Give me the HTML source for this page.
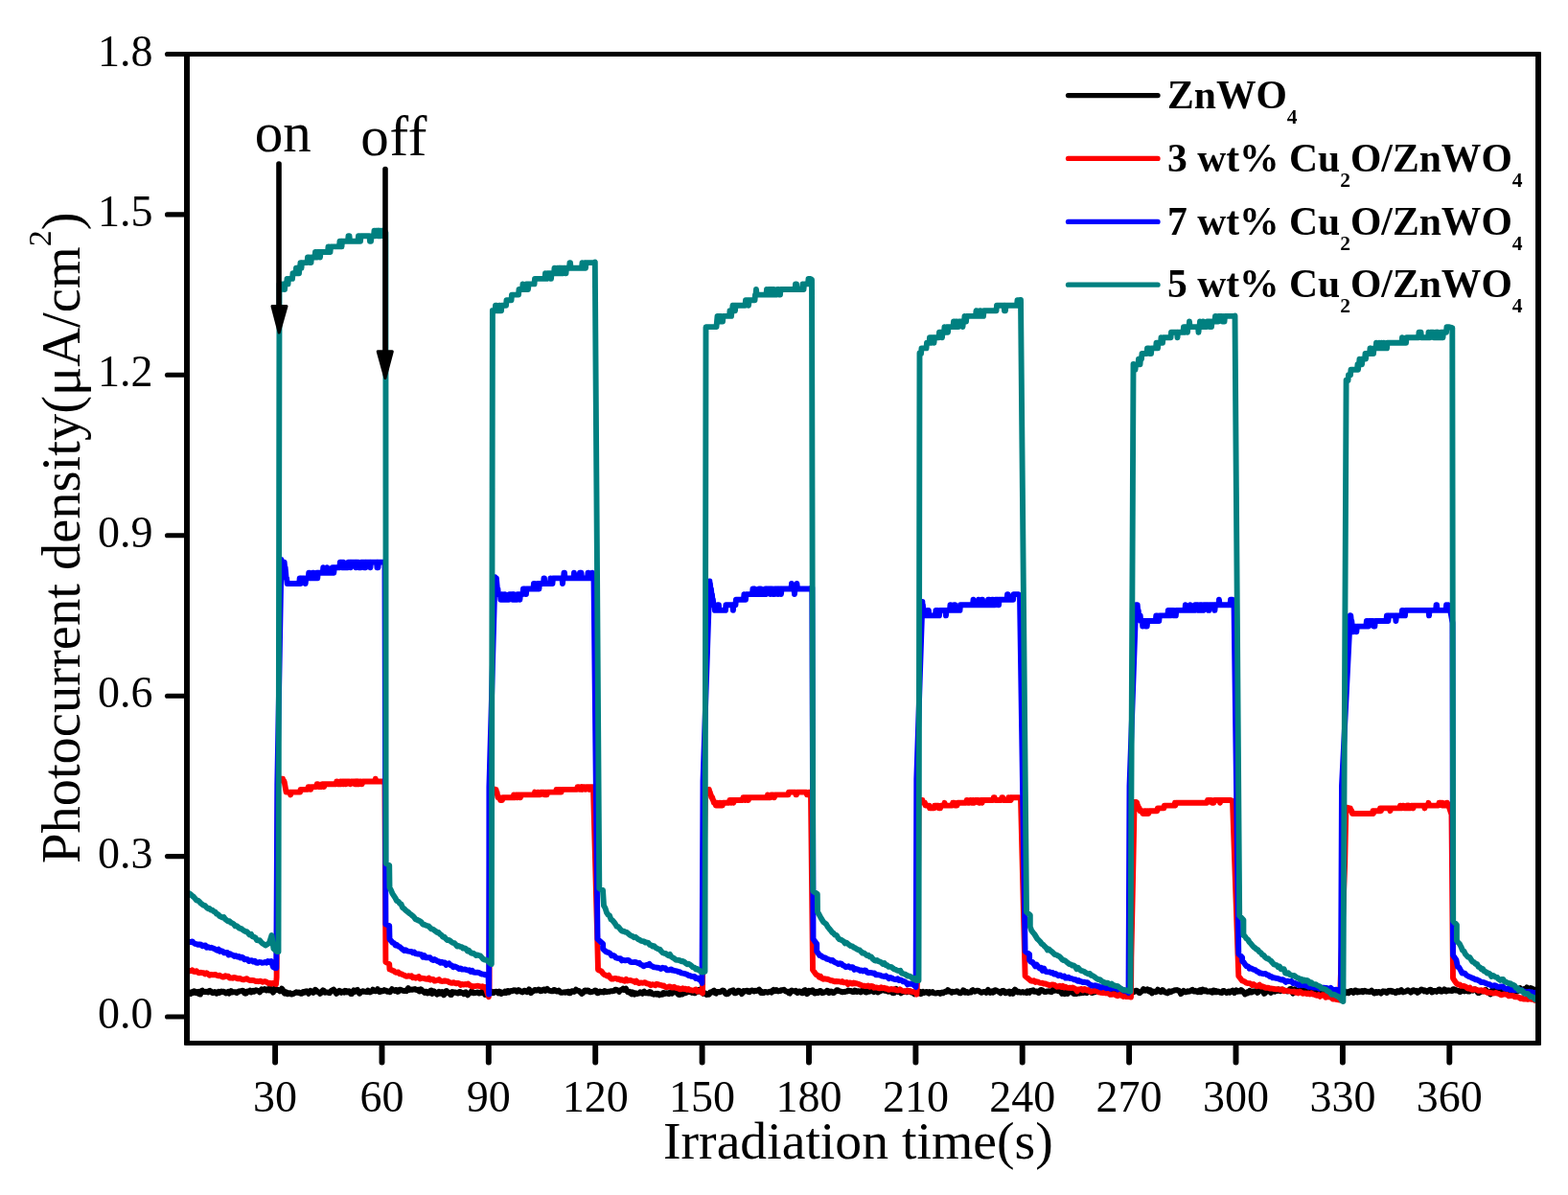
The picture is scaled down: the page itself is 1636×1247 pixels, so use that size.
<!DOCTYPE html>
<html><head><meta charset="utf-8"><style>
html,body{margin:0;padding:0;background:#fff;}
svg{display:block;}
text{font-family:"Liberation Serif","Times New Roman",serif;fill:#000;}
.yl text{font-size:46px;text-anchor:end;}
.xl text{font-size:46px;text-anchor:middle;}
.leg{font-size:41.6px;font-weight:bold;}
.sub{font-size:21.5px;}
</style></head><body>
<svg width="1636" height="1247" viewBox="0 0 1636 1247">
<rect x="0" y="0" width="1636" height="1247" fill="#fff"/>
<defs><clipPath id="pc"><rect x="195" y="56.5" width="1410" height="1032.0"/></clipPath></defs>
<g clip-path="url(#pc)">
<g transform="scale(1.0,1)">
<polyline points="196.00,1036.0 197.00,1035.5 198.00,1035.4 199.00,1037.0 200.00,1035.6 201.00,1034.8 202.00,1035.9 203.00,1034.4 204.00,1034.9 205.00,1036.2 206.00,1035.4 207.00,1034.8 208.00,1037.4 209.00,1037.6 210.00,1034.1 211.00,1033.6 212.00,1034.6 213.00,1035.0 214.00,1035.2 215.00,1034.7 216.00,1035.1 217.00,1035.4 218.00,1034.1 219.00,1033.8 220.00,1034.5 221.00,1035.6 222.00,1036.2 223.00,1035.3 224.00,1035.0 225.00,1035.3 226.00,1036.7 227.00,1036.1 228.00,1035.0 229.00,1035.9 230.00,1034.9 231.00,1034.5 232.00,1035.2 233.00,1034.7 234.00,1035.0 235.00,1036.0 236.00,1036.4 237.00,1035.5 238.00,1034.8 239.00,1036.6 240.00,1035.7 241.00,1034.1 242.00,1035.5 243.00,1035.4 244.00,1035.2 245.00,1035.2 246.00,1035.3 247.00,1036.0 248.00,1035.3 249.00,1034.5 250.00,1034.6 251.00,1034.1 252.00,1034.1 253.00,1033.6 254.00,1034.1 255.00,1036.1 256.00,1036.7 257.00,1036.4 258.00,1034.5 259.00,1034.6 260.00,1034.8 261.00,1033.6 262.00,1035.4 263.00,1034.6 264.00,1033.9 265.00,1034.8 266.00,1034.1 267.00,1033.2 268.00,1033.6 269.00,1033.8 270.00,1034.3 271.00,1035.4 272.00,1033.7 273.00,1032.4 274.00,1033.1 275.00,1032.6 276.00,1032.0 277.00,1032.9 278.00,1033.5 279.00,1032.3 280.00,1032.0 281.00,1033.5 282.00,1033.1 283.00,1032.0 284.00,1034.0 285.00,1035.6 286.00,1033.3 287.00,1031.4 288.00,1032.8 289.00,1033.0 290.00,1032.7 291.00,1033.5 292.00,1034.4 293.00,1033.2 294.00,1031.7 295.00,1032.9 296.00,1035.6 297.00,1036.6 298.00,1035.0 299.00,1035.6 300.00,1037.3 301.00,1036.8 302.00,1036.1 303.00,1036.5 304.00,1037.6 305.00,1037.4 306.00,1036.8 307.00,1036.7 308.00,1036.0 309.00,1035.3 310.00,1035.7 311.00,1036.0 312.00,1035.6 313.00,1036.4 314.00,1036.9 315.00,1036.8 316.00,1035.2 317.00,1034.9 318.00,1035.6 319.00,1034.5 320.00,1034.3 321.00,1035.6 322.00,1036.8 323.00,1035.3 324.00,1033.9 325.00,1034.4 326.00,1034.8 327.00,1035.9 328.00,1035.2 329.00,1032.7 330.00,1033.5 331.00,1034.8 332.00,1035.1 333.00,1035.6 334.00,1036.9 335.00,1036.2 336.00,1034.3 337.00,1033.3 338.00,1033.8 339.00,1035.7 340.00,1035.3 341.00,1035.5 342.00,1035.7 343.00,1036.0 344.00,1036.2 345.00,1034.3 346.00,1033.6 347.00,1033.3 348.00,1032.5 349.00,1033.8 350.00,1035.6 351.00,1036.8 352.00,1036.1 353.00,1034.6 354.00,1033.8 355.00,1034.7 356.00,1035.8 357.00,1034.6 358.00,1034.8 359.00,1035.6 360.00,1033.8 361.00,1034.0 362.00,1035.4 363.00,1034.6 364.00,1034.2 365.00,1035.7 366.00,1037.1 367.00,1037.1 368.00,1035.2 369.00,1033.4 370.00,1034.9 371.00,1034.5 372.00,1033.3 373.00,1032.9 374.00,1034.7 375.00,1036.8 376.00,1035.8 377.00,1035.2 378.00,1034.5 379.00,1034.1 380.00,1034.8 381.00,1034.6 382.00,1035.0 383.00,1035.2 384.00,1033.7 385.00,1034.9 386.00,1035.5 387.00,1034.9 388.00,1034.7 389.00,1032.7 390.00,1033.4 391.00,1034.0 392.00,1034.4 393.00,1034.2 394.00,1032.2 395.00,1033.5 396.00,1035.1 397.00,1034.9 398.00,1033.7 399.00,1034.3 400.00,1034.1 401.00,1033.1 402.00,1033.6 403.00,1033.6 404.00,1034.8 405.00,1034.5 406.00,1034.3 407.00,1035.2 408.00,1033.6 409.00,1032.2 410.00,1033.1 411.00,1033.5 412.00,1033.9 413.00,1032.9 414.00,1033.1 415.00,1035.0 416.00,1034.3 417.00,1032.7 418.00,1032.8 419.00,1033.4 420.00,1033.7 421.00,1034.0 422.00,1034.0 423.00,1033.7 424.00,1034.2 425.00,1032.8 426.00,1031.0 427.00,1033.0 428.00,1032.6 429.00,1032.7 430.00,1032.9 431.00,1032.4 432.00,1032.6 433.00,1032.1 434.00,1032.9 435.00,1033.1 436.00,1032.7 437.00,1034.3 438.00,1034.5 439.00,1032.3 440.00,1033.0 441.00,1034.3 442.00,1034.8 443.00,1035.8 444.00,1034.7 445.00,1034.6 446.00,1036.5 447.00,1036.2 448.00,1035.9 449.00,1034.0 450.00,1033.5 451.00,1036.9 452.00,1036.0 453.00,1034.4 454.00,1035.8 455.00,1036.6 456.00,1037.6 457.00,1035.9 458.00,1034.8 459.00,1036.6 460.00,1035.7 461.00,1035.0 462.00,1037.3 463.00,1038.2 464.00,1037.3 465.00,1034.5 466.00,1034.0 467.00,1036.1 468.00,1036.0 469.00,1035.7 470.00,1038.1 471.00,1038.0 472.00,1035.1 473.00,1035.4 474.00,1035.8 475.00,1035.5 476.00,1035.6 477.00,1036.4 478.00,1036.6 479.00,1035.2 480.00,1034.9 481.00,1036.1 482.00,1035.8 483.00,1036.3 484.00,1037.2 485.00,1035.6 486.00,1035.3 487.00,1037.4 488.00,1038.3 489.00,1036.8 490.00,1036.3 491.00,1035.9 492.00,1034.2 493.00,1035.1 494.00,1036.3 495.00,1036.2 496.00,1036.0 497.00,1035.9 498.00,1035.5 499.00,1035.6 500.00,1036.6 501.00,1036.2 502.00,1036.1 503.00,1034.9 504.00,1033.8 505.00,1036.0 506.00,1037.8 507.00,1037.0 508.00,1035.6 509.00,1034.5 510.00,1034.9 511.00,1036.3 512.00,1035.0 513.00,1034.8 514.00,1036.2 515.00,1036.1 516.00,1034.9 517.00,1034.9 518.00,1034.6 519.00,1035.3 520.00,1036.4 521.00,1034.5 522.00,1035.3 523.00,1036.9 524.00,1035.5 525.00,1036.2 526.00,1035.9 527.00,1034.5 528.00,1036.0 529.00,1034.1 530.00,1034.0 531.00,1035.5 532.00,1034.7 533.00,1034.0 534.00,1034.2 535.00,1034.1 536.00,1033.2 537.00,1033.6 538.00,1033.4 539.00,1034.7 540.00,1034.6 541.00,1033.0 542.00,1033.6 543.00,1034.1 544.00,1034.9 545.00,1035.4 546.00,1034.6 547.00,1033.7 548.00,1033.9 549.00,1034.8 550.00,1035.2 551.00,1034.2 552.00,1032.3 553.00,1034.1 554.00,1036.2 555.00,1034.9 556.00,1034.5 557.00,1033.9 558.00,1032.9 559.00,1033.1 560.00,1033.6 561.00,1033.4 562.00,1032.5 563.00,1032.8 564.00,1034.2 565.00,1034.1 566.00,1033.7 567.00,1032.6 568.00,1032.4 569.00,1033.8 570.00,1033.1 571.00,1032.0 572.00,1033.2 573.00,1033.8 574.00,1033.9 575.00,1034.2 576.00,1034.3 577.00,1034.4 578.00,1032.9 579.00,1033.1 580.00,1034.0 581.00,1034.5 582.00,1034.5 583.00,1033.7 584.00,1034.7 585.00,1035.8 586.00,1035.8 587.00,1035.7 588.00,1035.5 589.00,1035.3 590.00,1035.7 591.00,1035.4 592.00,1034.9 593.00,1034.7 594.00,1036.4 595.00,1036.3 596.00,1034.5 597.00,1034.2 598.00,1034.4 599.00,1034.9 600.00,1034.1 601.00,1032.6 602.00,1033.6 603.00,1033.9 604.00,1033.9 605.00,1035.1 606.00,1035.8 607.00,1036.9 608.00,1036.3 609.00,1034.8 610.00,1033.7 611.00,1033.5 612.00,1034.4 613.00,1033.5 614.00,1033.6 615.00,1035.0 616.00,1035.4 617.00,1035.2 618.00,1034.8 619.00,1034.6 620.00,1034.2 621.00,1033.4 622.00,1033.8 623.00,1036.2 624.00,1036.2 625.00,1035.3 626.00,1034.5 627.00,1035.2 628.00,1035.3 629.00,1034.8 630.00,1035.4 631.00,1034.1 632.00,1034.7 633.00,1035.3 634.00,1034.7 635.00,1034.9 636.00,1034.8 637.00,1034.1 638.00,1034.4 639.00,1034.3 640.00,1034.0 641.00,1033.8 642.00,1032.6 643.00,1032.6 644.00,1033.3 645.00,1033.7 646.00,1034.9 647.00,1033.7 648.00,1032.9 649.00,1032.5 650.00,1031.7 651.00,1033.0 652.00,1032.3 653.00,1031.5 654.00,1033.5 655.00,1035.2 656.00,1035.3 657.00,1034.9 658.00,1036.7 659.00,1037.4 660.00,1035.3 661.00,1036.6 662.00,1037.6 663.00,1036.2 664.00,1036.6 665.00,1037.0 666.00,1036.6 667.00,1036.6 668.00,1035.4 669.00,1036.0 670.00,1036.8 671.00,1035.4 672.00,1034.7 673.00,1036.1 674.00,1036.4 675.00,1035.7 676.00,1036.5 677.00,1036.5 678.00,1035.0 679.00,1035.3 680.00,1037.1 681.00,1037.2 682.00,1037.7 683.00,1037.3 684.00,1036.7 685.00,1037.6 686.00,1036.8 687.00,1036.9 688.00,1038.4 689.00,1037.7 690.00,1037.8 691.00,1037.8 692.00,1035.9 693.00,1036.1 694.00,1036.9 695.00,1036.4 696.00,1036.3 697.00,1036.9 698.00,1037.2 699.00,1035.7 700.00,1035.7 701.00,1036.7 702.00,1035.8 703.00,1035.0 704.00,1035.2 705.00,1035.1 706.00,1035.6 707.00,1036.8 708.00,1037.8 709.00,1038.0 710.00,1037.3 711.00,1037.3 712.00,1037.5 713.00,1036.4 714.00,1036.0 715.00,1036.4 716.00,1035.9 717.00,1035.3 718.00,1035.0 719.00,1035.1 720.00,1034.6 721.00,1035.2 722.00,1036.0 723.00,1035.7 724.00,1036.0 725.00,1036.4 726.00,1035.7 727.00,1035.1 728.00,1034.4 729.00,1032.9 730.00,1032.7 731.00,1035.3 732.00,1035.4 733.00,1034.6 734.00,1036.9 735.00,1036.3 736.00,1036.4 737.00,1038.0 738.00,1037.5 739.00,1037.9 740.00,1037.6 741.00,1035.4 742.00,1035.3 743.00,1035.5 744.00,1034.2 745.00,1033.6 746.00,1036.2 747.00,1036.7 748.00,1035.0 749.00,1034.9 750.00,1035.0 751.00,1035.3 752.00,1034.9 753.00,1034.2 754.00,1033.4 755.00,1033.8 756.00,1034.9 757.00,1036.9 758.00,1037.4 759.00,1037.2 760.00,1036.8 761.00,1035.4 762.00,1034.1 763.00,1034.2 764.00,1033.6 765.00,1033.3 766.00,1036.0 767.00,1036.4 768.00,1036.0 769.00,1035.5 770.00,1033.7 771.00,1033.6 772.00,1034.3 773.00,1035.5 774.00,1037.1 775.00,1035.7 776.00,1034.1 777.00,1034.5 778.00,1034.4 779.00,1033.6 780.00,1033.9 781.00,1035.1 782.00,1035.2 783.00,1034.1 784.00,1033.7 785.00,1033.4 786.00,1034.1 787.00,1034.6 788.00,1033.7 789.00,1034.1 790.00,1033.9 791.00,1033.4 792.00,1032.6 793.00,1034.5 794.00,1036.0 795.00,1034.9 796.00,1036.2 797.00,1036.0 798.00,1034.9 799.00,1034.9 800.00,1035.4 801.00,1035.7 802.00,1035.1 803.00,1034.6 804.00,1034.6 805.00,1035.6 806.00,1033.9 807.00,1033.0 808.00,1034.2 809.00,1034.1 810.00,1033.0 811.00,1033.7 812.00,1034.5 813.00,1033.9 814.00,1034.1 815.00,1033.1 816.00,1033.2 817.00,1033.1 818.00,1032.7 819.00,1033.8 820.00,1034.5 821.00,1034.8 822.00,1034.7 823.00,1036.2 824.00,1036.6 825.00,1034.2 826.00,1033.5 827.00,1033.9 828.00,1034.3 829.00,1034.3 830.00,1033.8 831.00,1035.4 832.00,1036.1 833.00,1034.7 834.00,1034.5 835.00,1034.6 836.00,1035.8 837.00,1036.3 838.00,1036.1 839.00,1033.6 840.00,1033.0 841.00,1036.0 842.00,1037.2 843.00,1036.4 844.00,1033.8 845.00,1034.2 846.00,1035.0 847.00,1033.4 848.00,1033.3 849.00,1035.4 850.00,1036.6 851.00,1036.4 852.00,1034.8 853.00,1036.1 854.00,1036.0 855.00,1034.1 856.00,1033.9 857.00,1034.9 858.00,1036.2 859.00,1035.9 860.00,1035.6 861.00,1034.9 862.00,1035.0 863.00,1033.7 864.00,1034.2 865.00,1036.2 866.00,1035.2 867.00,1034.5 868.00,1035.0 869.00,1036.1 870.00,1036.1 871.00,1035.0 872.00,1034.3 873.00,1033.2 874.00,1033.1 875.00,1034.2 876.00,1034.4 877.00,1034.4 878.00,1035.1 879.00,1035.3 880.00,1034.9 881.00,1035.0 882.00,1035.0 883.00,1034.4 884.00,1034.6 885.00,1033.4 886.00,1033.9 887.00,1034.2 888.00,1033.9 889.00,1034.8 890.00,1035.0 891.00,1035.0 892.00,1033.5 893.00,1034.2 894.00,1035.0 895.00,1034.3 896.00,1034.2 897.00,1034.8 898.00,1035.4 899.00,1034.8 900.00,1033.1 901.00,1032.7 902.00,1033.9 903.00,1035.4 904.00,1035.6 905.00,1034.3 906.00,1034.9 907.00,1034.9 908.00,1034.0 909.00,1034.3 910.00,1033.2 911.00,1033.8 912.00,1035.2 913.00,1034.4 914.00,1033.3 915.00,1033.7 916.00,1035.5 917.00,1034.9 918.00,1033.2 919.00,1034.0 920.00,1033.6 921.00,1031.8 922.00,1032.7 923.00,1033.8 924.00,1033.9 925.00,1034.1 926.00,1034.5 927.00,1034.8 928.00,1034.2 929.00,1034.0 930.00,1035.0 931.00,1036.0 932.00,1036.2 933.00,1036.1 934.00,1033.1 935.00,1032.0 936.00,1034.1 937.00,1035.0 938.00,1034.1 939.00,1035.0 940.00,1036.4 941.00,1035.0 942.00,1034.9 943.00,1035.2 944.00,1034.5 945.00,1035.2 946.00,1035.4 947.00,1034.1 948.00,1034.0 949.00,1034.9 950.00,1034.6 951.00,1035.6 952.00,1035.6 953.00,1036.0 954.00,1037.4 955.00,1035.5 956.00,1035.0 957.00,1036.5 958.00,1036.3 959.00,1034.6 960.00,1034.8 961.00,1037.1 962.00,1035.9 963.00,1034.9 964.00,1036.0 965.00,1035.5 966.00,1035.2 967.00,1035.0 968.00,1036.0 969.00,1036.7 970.00,1035.2 971.00,1035.9 972.00,1035.6 973.00,1035.0 974.00,1036.0 975.00,1036.4 976.00,1036.5 977.00,1036.3 978.00,1036.0 979.00,1035.9 980.00,1036.2 981.00,1037.0 982.00,1036.2 983.00,1035.5 984.00,1036.3 985.00,1035.6 986.00,1034.8 987.00,1035.0 988.00,1034.3 989.00,1033.0 990.00,1034.5 991.00,1034.3 992.00,1034.8 993.00,1035.7 994.00,1034.8 995.00,1035.1 996.00,1035.1 997.00,1034.9 998.00,1034.3 999.00,1034.4 1000.00,1035.4 1001.00,1036.2 1002.00,1036.4 1003.00,1035.8 1004.00,1034.8 1005.00,1033.3 1006.00,1033.9 1007.00,1035.7 1008.00,1034.9 1009.00,1034.9 1010.00,1036.1 1011.00,1035.6 1012.00,1035.4 1013.00,1035.6 1014.00,1033.6 1015.00,1033.1 1016.00,1034.0 1017.00,1034.7 1018.00,1034.4 1019.00,1033.7 1020.00,1033.7 1021.00,1033.9 1022.00,1034.7 1023.00,1035.4 1024.00,1035.9 1025.00,1035.4 1026.00,1035.0 1027.00,1035.0 1028.00,1034.9 1029.00,1035.9 1030.00,1034.1 1031.00,1032.9 1032.00,1034.9 1033.00,1035.8 1034.00,1034.8 1035.00,1034.3 1036.00,1035.7 1037.00,1035.1 1038.00,1033.2 1039.00,1033.2 1040.00,1033.8 1041.00,1034.5 1042.00,1034.7 1043.00,1035.6 1044.00,1036.3 1045.00,1034.5 1046.00,1034.0 1047.00,1033.8 1048.00,1034.5 1049.00,1036.3 1050.00,1035.9 1051.00,1035.5 1052.00,1035.0 1053.00,1034.6 1054.00,1036.9 1055.00,1035.7 1056.00,1034.9 1057.00,1036.8 1058.00,1034.6 1059.00,1032.7 1060.00,1033.4 1061.00,1035.1 1062.00,1035.5 1063.00,1034.7 1064.00,1035.5 1065.00,1035.7 1066.00,1035.3 1067.00,1035.0 1068.00,1035.7 1069.00,1035.4 1070.00,1035.7 1071.00,1036.1 1072.00,1034.3 1073.00,1035.0 1074.00,1035.8 1075.00,1034.0 1076.00,1033.8 1077.00,1034.2 1078.00,1033.4 1079.00,1034.9 1080.00,1034.8 1081.00,1034.4 1082.00,1034.7 1083.00,1035.8 1084.00,1036.0 1085.00,1033.7 1086.00,1032.9 1087.00,1033.1 1088.00,1033.9 1089.00,1034.5 1090.00,1035.0 1091.00,1035.1 1092.00,1034.5 1093.00,1034.6 1094.00,1034.3 1095.00,1034.3 1096.00,1034.9 1097.00,1035.2 1098.00,1034.3 1099.00,1032.5 1100.00,1032.3 1101.00,1033.7 1102.00,1032.6 1103.00,1032.1 1104.00,1034.3 1105.00,1034.3 1106.00,1033.3 1107.00,1035.1 1108.00,1037.0 1109.00,1035.7 1110.00,1035.8 1111.00,1037.1 1112.00,1035.5 1113.00,1036.6 1114.00,1036.9 1115.00,1034.9 1116.00,1034.9 1117.00,1035.2 1118.00,1035.2 1119.00,1035.1 1120.00,1036.8 1121.00,1037.0 1122.00,1036.0 1123.00,1037.0 1124.00,1036.5 1125.00,1036.1 1126.00,1036.5 1127.00,1036.0 1128.00,1036.2 1129.00,1036.1 1130.00,1036.1 1131.00,1035.4 1132.00,1035.0 1133.00,1035.9 1134.00,1036.2 1135.00,1035.0 1136.00,1034.6 1137.00,1034.9 1138.00,1035.4 1139.00,1036.0 1140.00,1036.0 1141.00,1035.4 1142.00,1035.4 1143.00,1034.8 1144.00,1032.8 1145.00,1033.7 1146.00,1034.5 1147.00,1033.9 1148.00,1034.2 1149.00,1035.3 1150.00,1035.2 1151.00,1035.0 1152.00,1035.4 1153.00,1034.3 1154.00,1033.6 1155.00,1034.7 1156.00,1036.1 1157.00,1036.3 1158.00,1037.3 1159.00,1036.9 1160.00,1035.8 1161.00,1035.5 1162.00,1035.3 1163.00,1035.2 1164.00,1034.4 1165.00,1036.1 1166.00,1035.4 1167.00,1034.1 1168.00,1035.7 1169.00,1035.6 1170.00,1034.6 1171.00,1034.3 1172.00,1034.7 1173.00,1034.0 1174.00,1034.3 1175.00,1034.8 1176.00,1034.4 1177.00,1035.1 1178.00,1034.8 1179.00,1034.6 1180.00,1034.9 1181.00,1034.9 1182.00,1035.3 1183.00,1035.2 1184.00,1034.4 1185.00,1033.7 1186.00,1033.8 1187.00,1034.4 1188.00,1035.6 1189.00,1036.2 1190.00,1035.3 1191.00,1034.6 1192.00,1033.8 1193.00,1032.1 1194.00,1032.7 1195.00,1033.7 1196.00,1033.2 1197.00,1032.4 1198.00,1033.9 1199.00,1034.6 1200.00,1033.0 1201.00,1035.2 1202.00,1036.5 1203.00,1034.6 1204.00,1035.0 1205.00,1034.6 1206.00,1035.3 1207.00,1034.7 1208.00,1032.7 1209.00,1033.6 1210.00,1034.0 1211.00,1035.1 1212.00,1034.5 1213.00,1033.0 1214.00,1034.2 1215.00,1035.2 1216.00,1035.7 1217.00,1035.5 1218.00,1036.4 1219.00,1035.8 1220.00,1034.3 1221.00,1035.3 1222.00,1034.9 1223.00,1034.1 1224.00,1034.0 1225.00,1033.7 1226.00,1033.2 1227.00,1033.3 1228.00,1033.0 1229.00,1033.7 1230.00,1033.6 1231.00,1034.8 1232.00,1037.1 1233.00,1036.4 1234.00,1035.1 1235.00,1033.9 1236.00,1034.9 1237.00,1035.4 1238.00,1035.0 1239.00,1034.3 1240.00,1034.7 1241.00,1034.6 1242.00,1034.0 1243.00,1033.3 1244.00,1032.8 1245.00,1034.3 1246.00,1034.5 1247.00,1033.8 1248.00,1034.7 1249.00,1035.0 1250.00,1035.3 1251.00,1033.7 1252.00,1033.2 1253.00,1035.3 1254.00,1033.8 1255.00,1032.5 1256.00,1034.3 1257.00,1034.4 1258.00,1033.4 1259.00,1034.6 1260.00,1034.8 1261.00,1034.7 1262.00,1034.4 1263.00,1034.2 1264.00,1035.6 1265.00,1035.7 1266.00,1033.4 1267.00,1033.6 1268.00,1035.2 1269.00,1034.1 1270.00,1035.1 1271.00,1034.5 1272.00,1034.9 1273.00,1035.7 1274.00,1035.5 1275.00,1035.9 1276.00,1033.9 1277.00,1034.0 1278.00,1035.2 1279.00,1035.5 1280.00,1036.0 1281.00,1035.0 1282.00,1034.6 1283.00,1035.8 1284.00,1035.2 1285.00,1034.1 1286.00,1033.6 1287.00,1034.8 1288.00,1036.0 1289.00,1034.9 1290.00,1033.4 1291.00,1034.9 1292.00,1034.7 1293.00,1033.9 1294.00,1034.5 1295.00,1033.1 1296.00,1033.7 1297.00,1034.8 1298.00,1035.8 1299.00,1037.5 1300.00,1036.3 1301.00,1035.4 1302.00,1036.3 1303.00,1035.2 1304.00,1033.8 1305.00,1035.3 1306.00,1035.6 1307.00,1034.5 1308.00,1034.5 1309.00,1034.4 1310.00,1034.1 1311.00,1034.7 1312.00,1036.0 1313.00,1035.2 1314.00,1033.3 1315.00,1033.6 1316.00,1033.5 1317.00,1033.0 1318.00,1034.9 1319.00,1036.9 1320.00,1036.3 1321.00,1033.9 1322.00,1034.2 1323.00,1033.3 1324.00,1032.3 1325.00,1034.9 1326.00,1035.9 1327.00,1033.8 1328.00,1032.1 1329.00,1033.6 1330.00,1034.7 1331.00,1033.7 1332.00,1034.0 1333.00,1034.0 1334.00,1032.3 1335.00,1033.3 1336.00,1034.2 1337.00,1032.9 1338.00,1032.4 1339.00,1033.2 1340.00,1033.6 1341.00,1033.9 1342.00,1034.2 1343.00,1034.5 1344.00,1034.4 1345.00,1033.2 1346.00,1032.1 1347.00,1031.8 1348.00,1033.7 1349.00,1036.6 1350.00,1035.2 1351.00,1032.3 1352.00,1033.4 1353.00,1034.5 1354.00,1033.8 1355.00,1033.5 1356.00,1032.9 1357.00,1032.6 1358.00,1034.4 1359.00,1035.8 1360.00,1035.1 1361.00,1033.7 1362.00,1034.2 1363.00,1035.2 1364.00,1035.2 1365.00,1034.0 1366.00,1033.9 1367.00,1035.1 1368.00,1034.4 1369.00,1032.8 1370.00,1033.7 1371.00,1034.9 1372.00,1035.3 1373.00,1035.1 1374.00,1034.0 1375.00,1033.7 1376.00,1033.4 1377.00,1033.1 1378.00,1033.5 1379.00,1033.8 1380.00,1035.0 1381.00,1034.5 1382.00,1033.7 1383.00,1034.2 1384.00,1035.3 1385.00,1035.9 1386.00,1034.7 1387.00,1035.1 1388.00,1035.4 1389.00,1034.5 1390.00,1035.6 1391.00,1036.4 1392.00,1036.6 1393.00,1036.9 1394.00,1036.3 1395.00,1035.5 1396.00,1034.2 1397.00,1034.7 1398.00,1035.5 1399.00,1035.5 1400.00,1035.4 1401.00,1034.4 1402.00,1033.7 1403.00,1034.7 1404.00,1036.3 1405.00,1035.6 1406.00,1035.0 1407.00,1036.2 1408.00,1035.3 1409.00,1034.1 1410.00,1033.9 1411.00,1035.0 1412.00,1035.9 1413.00,1034.8 1414.00,1033.4 1415.00,1033.6 1416.00,1035.5 1417.00,1035.4 1418.00,1034.4 1419.00,1035.0 1420.00,1034.4 1421.00,1034.0 1422.00,1035.3 1423.00,1034.7 1424.00,1033.7 1425.00,1034.4 1426.00,1034.9 1427.00,1034.6 1428.00,1034.8 1429.00,1035.1 1430.00,1034.3 1431.00,1033.6 1432.00,1034.6 1433.00,1035.8 1434.00,1036.5 1435.00,1035.1 1436.00,1034.9 1437.00,1036.0 1438.00,1035.2 1439.00,1035.0 1440.00,1035.6 1441.00,1036.5 1442.00,1035.1 1443.00,1034.3 1444.00,1034.9 1445.00,1034.4 1446.00,1035.3 1447.00,1036.0 1448.00,1034.4 1449.00,1033.7 1450.00,1034.5 1451.00,1033.7 1452.00,1034.1 1453.00,1035.1 1454.00,1034.6 1455.00,1034.8 1456.00,1036.0 1457.00,1035.8 1458.00,1034.2 1459.00,1035.4 1460.00,1035.3 1461.00,1033.7 1462.00,1033.1 1463.00,1034.2 1464.00,1035.4 1465.00,1034.9 1466.00,1034.8 1467.00,1034.4 1468.00,1033.7 1469.00,1033.3 1470.00,1034.1 1471.00,1034.7 1472.00,1035.6 1473.00,1034.9 1474.00,1033.4 1475.00,1033.2 1476.00,1034.5 1477.00,1034.4 1478.00,1033.9 1479.00,1035.8 1480.00,1035.1 1481.00,1034.6 1482.00,1033.2 1483.00,1032.4 1484.00,1032.8 1485.00,1033.1 1486.00,1034.3 1487.00,1033.6 1488.00,1034.3 1489.00,1035.0 1490.00,1034.0 1491.00,1033.4 1492.00,1032.7 1493.00,1032.9 1494.00,1035.4 1495.00,1035.1 1496.00,1033.9 1497.00,1034.0 1498.00,1034.2 1499.00,1034.9 1500.00,1034.2 1501.00,1032.6 1502.00,1032.4 1503.00,1034.5 1504.00,1034.7 1505.00,1034.3 1506.00,1034.1 1507.00,1032.3 1508.00,1033.0 1509.00,1034.5 1510.00,1033.8 1511.00,1033.3 1512.00,1033.9 1513.00,1033.8 1514.00,1033.8 1515.00,1034.1 1516.00,1032.2 1517.00,1032.2 1518.00,1033.4 1519.00,1033.0 1520.00,1033.7 1521.00,1033.9 1522.00,1034.0 1523.00,1035.1 1524.00,1034.8 1525.00,1033.0 1526.00,1032.4 1527.00,1034.1 1528.00,1034.4 1529.00,1033.2 1530.00,1033.3 1531.00,1034.3 1532.00,1034.5 1533.00,1034.6 1534.00,1033.8 1535.00,1033.2 1536.00,1033.6 1537.00,1033.8 1538.00,1032.5 1539.00,1032.3 1540.00,1032.9 1541.00,1034.0 1542.00,1036.0 1543.00,1036.2 1544.00,1035.7 1545.00,1034.2 1546.00,1034.3 1547.00,1034.5 1548.00,1034.3 1549.00,1033.8 1550.00,1032.9 1551.00,1033.9 1552.00,1035.5 1553.00,1035.2 1554.00,1035.5 1555.00,1037.5 1556.00,1035.0 1557.00,1033.1 1558.00,1033.3 1559.00,1033.2 1560.00,1033.5 1561.00,1033.6 1562.00,1034.6 1563.00,1035.3 1564.00,1034.8 1565.00,1034.1 1566.00,1034.0 1567.00,1034.1 1568.00,1034.4 1569.00,1034.3 1570.00,1034.2 1571.00,1033.3 1572.00,1033.5 1573.00,1035.6 1574.00,1035.1 1575.00,1032.9 1576.00,1033.7 1577.00,1034.4 1578.00,1031.4 1579.00,1031.4 1580.00,1033.9 1581.00,1034.3 1582.00,1034.7 1583.00,1034.8 1584.00,1034.0 1585.00,1032.1 1586.00,1031.2 1587.00,1032.7 1588.00,1033.9 1589.00,1033.0 1590.00,1032.1 1591.00,1033.1 1592.00,1032.1 1593.00,1030.4 1594.00,1031.5 1595.00,1033.0 1596.00,1032.8 1597.00,1031.0 1598.00,1031.3 1599.00,1031.9 1600.00,1032.3 1601.00,1033.1 1602.00,1032.8 1603.00,1033.3 1604.00,1032.7 1605.00,1032.7 1606.00,1032.5" fill="none" stroke="#000000" stroke-width="5.9" stroke-linejoin="round" stroke-linecap="round"/>
<polyline points="196.00,1013.0 197.50,1013.0 199.01,1013.3 200.51,1012.4 202.01,1013.9 203.52,1014.0 205.02,1013.2 206.52,1014.9 208.03,1015.3 209.53,1014.8 211.03,1015.2 212.54,1015.1 214.04,1016.4 215.54,1015.3 217.05,1016.2 218.55,1017.8 220.05,1016.9 221.56,1017.4 223.06,1017.3 224.56,1016.9 226.07,1017.8 227.57,1018.3 229.07,1017.7 230.58,1018.7 232.08,1019.5 233.58,1019.6 235.09,1018.2 236.59,1018.8 238.09,1018.7 239.60,1020.5 241.10,1020.5 242.60,1020.7 244.11,1020.0 245.61,1020.1 247.11,1021.0 248.62,1021.3 250.12,1020.9 251.62,1021.7 253.13,1022.2 254.63,1022.2 256.13,1021.6 257.64,1021.2 259.14,1022.5 260.64,1023.0 262.15,1022.9 263.65,1023.0 265.15,1023.1 266.66,1024.1 268.16,1023.9 269.66,1024.2 271.17,1023.7 272.67,1024.1 274.17,1024.8 275.68,1024.3 277.18,1024.3 278.68,1025.1 280.19,1026.2 281.69,1025.8 283.19,1026.7 284.70,1025.9 286.20,1026.2 288.00,1027.0 288.60,1020.0 290.00,812.6 294.10,812.7 295.10,812.7 295.60,815.5 296.60,815.5 297.11,818.3 297.61,821.1 298.11,823.9 298.61,826.6 302.62,826.6 303.12,829.4 303.62,826.6 313.14,826.6 313.64,823.9 321.15,823.9 321.65,821.1 323.15,821.1 323.66,823.9 324.16,823.9 324.66,821.1 330.17,821.1 330.67,818.3 331.67,818.3 332.17,821.1 335.68,821.1 336.18,818.3 336.68,818.3 337.18,821.1 338.18,821.1 338.68,818.3 350.71,818.3 351.21,815.5 351.71,815.5 352.21,818.3 354.71,818.3 355.22,815.5 355.72,818.3 356.22,818.3 356.72,815.5 357.22,815.5 357.72,818.3 358.72,818.3 359.22,815.5 359.72,815.5 360.23,818.3 361.23,818.3 361.73,815.5 364.73,815.5 365.23,818.3 365.74,818.3 366.24,815.5 369.74,815.5 370.24,818.3 370.75,815.5 371.25,818.3 371.75,815.5 372.25,818.3 372.75,815.5 373.25,818.3 373.75,815.5 374.25,818.3 374.75,818.3 375.25,815.5 376.76,815.5 377.26,818.3 377.76,818.3 378.26,815.5 391.28,815.5 391.78,812.7 392.29,815.5 399.80,815.5 401.50,815.0 402.40,1004.0 406.20,1006.0 406.50,1011.5 406.50,1011.5 408.02,1012.0 409.53,1012.7 411.05,1013.3 412.56,1014.7 414.08,1014.7 415.59,1014.5 417.11,1016.4 418.62,1016.1 420.14,1017.2 421.65,1017.6 423.17,1018.5 424.68,1018.8 426.20,1018.2 427.71,1018.7 429.23,1018.3 430.74,1020.3 432.26,1019.8 433.77,1020.7 435.29,1019.8 436.80,1019.0 438.32,1021.4 439.83,1020.7 441.35,1020.9 442.86,1021.1 444.38,1021.6 445.89,1021.8 447.41,1020.7 448.92,1022.5 450.44,1021.8 451.95,1022.0 453.47,1023.6 454.98,1023.3 456.50,1022.8 458.02,1022.1 459.53,1023.6 461.05,1024.0 462.56,1023.9 464.08,1023.4 465.59,1023.9 467.11,1023.9 468.62,1025.0 470.14,1025.6 471.65,1025.9 473.17,1025.1 474.68,1025.9 476.20,1026.3 477.71,1025.9 479.23,1026.3 480.74,1027.9 482.26,1027.0 483.77,1027.6 485.29,1027.0 486.80,1027.5 488.32,1026.6 489.83,1027.9 491.35,1028.8 492.86,1029.5 494.38,1029.2 495.89,1029.1 497.41,1028.9 498.92,1028.7 500.44,1029.2 501.95,1029.8 503.47,1029.2 504.98,1030.4 506.50,1030.0 509.80,1040.2 510.50,1030.0 511.20,823.3 515.00,823.3 517.00,823.9 517.50,823.9 518.00,826.6 518.50,826.6 519.00,829.4 519.50,832.2 521.50,832.2 522.00,835.0 524.01,835.0 524.51,832.2 535.52,832.2 536.02,829.4 536.52,832.2 537.52,832.2 538.02,829.4 538.52,829.4 539.02,832.2 540.02,832.2 540.52,829.4 541.52,829.4 542.02,832.2 543.03,832.2 543.53,829.4 557.54,829.4 558.04,826.6 558.54,829.4 560.54,829.4 561.04,826.6 561.54,826.6 562.04,829.4 563.55,829.4 564.05,826.6 567.55,826.6 568.05,829.4 568.55,829.4 569.05,826.6 569.55,826.6 570.05,829.4 570.55,829.4 571.05,826.6 580.06,826.6 580.56,823.9 581.06,826.6 581.56,826.6 582.06,823.9 583.07,823.9 583.57,826.6 584.07,823.9 584.57,823.9 585.07,826.6 585.57,826.6 586.07,823.9 602.08,823.9 602.58,821.1 604.09,821.1 604.59,823.9 606.59,823.9 607.09,821.1 607.59,823.9 608.09,821.1 610.09,821.1 610.59,823.9 611.09,823.9 611.59,821.1 614.60,821.1 615.10,823.9 615.60,821.1 618.60,821.1 619.00,822.0 623.30,982.0 624.00,1012.0 627.50,1013.5 629.10,1015.8 629.10,1015.8 630.61,1017.2 632.13,1017.6 633.64,1018.6 635.15,1017.7 636.67,1020.4 638.18,1021.6 639.69,1021.5 641.21,1020.9 642.72,1020.9 644.23,1021.9 645.75,1021.4 647.26,1022.7 648.77,1022.2 650.29,1023.3 651.80,1023.8 653.31,1021.9 654.83,1023.5 656.34,1023.1 657.86,1022.9 659.37,1023.5 660.88,1023.9 662.40,1024.9 663.91,1023.6 665.42,1025.3 666.94,1026.1 668.45,1025.5 669.96,1025.7 671.48,1025.6 672.99,1025.1 674.50,1026.3 676.02,1026.5 677.53,1026.9 679.04,1028.2 680.56,1027.3 682.07,1027.4 683.58,1028.3 685.10,1026.8 686.61,1027.1 688.12,1027.8 689.64,1027.9 691.15,1028.9 692.66,1028.5 694.18,1030.0 695.69,1030.1 697.20,1029.9 698.72,1029.4 700.23,1030.3 701.74,1030.6 703.26,1029.8 704.77,1030.8 706.29,1031.3 707.80,1031.2 709.31,1032.3 710.83,1032.3 712.34,1031.3 713.85,1032.1 715.37,1031.7 716.88,1032.7 718.39,1032.1 719.91,1033.3 721.42,1033.2 722.93,1033.7 724.45,1033.2 725.96,1032.5 727.47,1034.6 728.99,1033.6 730.50,1033.8 733.00,1036.3 733.20,1000.0 735.80,825.3 737.00,825.3 739.80,823.9 740.30,826.6 740.80,826.6 741.30,829.4 741.80,829.4 742.30,832.2 743.31,832.2 743.81,835.0 744.31,835.0 744.81,837.8 746.31,837.8 746.81,840.6 747.31,840.6 747.82,837.8 748.32,837.8 748.82,840.6 750.32,840.6 750.82,837.8 751.32,837.8 751.82,840.6 753.83,840.6 754.33,837.8 760.84,837.8 761.34,835.0 762.34,835.0 762.84,837.8 763.34,835.0 764.85,835.0 765.35,837.8 765.85,835.0 774.87,835.0 775.37,832.2 776.87,832.2 777.37,835.0 777.87,832.2 779.38,832.2 779.88,835.0 780.88,835.0 781.38,832.2 800.42,832.2 800.92,829.4 801.42,832.2 803.92,832.2 804.42,829.4 806.93,829.4 807.43,832.2 807.93,832.2 808.43,829.4 822.46,829.4 822.96,826.6 829.97,826.6 830.47,829.4 830.97,829.4 831.47,826.6 841.49,826.6 841.99,829.4 843.50,829.4 844.00,826.6 845.00,826.6 846.00,827.5 848.00,1012.0 851.60,1017.1 851.60,1017.1 853.11,1017.5 854.61,1019.7 856.12,1018.8 857.62,1021.1 859.13,1021.7 860.63,1021.3 862.14,1021.7 863.65,1021.8 865.15,1022.4 866.66,1023.2 868.16,1023.1 869.67,1023.9 871.18,1024.3 872.68,1024.0 874.19,1024.3 875.69,1024.3 877.20,1024.8 878.70,1024.1 880.21,1025.3 881.72,1025.4 883.22,1025.0 884.73,1027.1 886.23,1025.4 887.74,1025.7 889.24,1026.6 890.75,1025.5 892.26,1026.4 893.76,1026.2 895.27,1026.7 896.77,1027.4 898.28,1027.9 899.79,1028.6 901.29,1028.6 902.80,1029.1 904.30,1028.9 905.81,1028.5 907.31,1029.7 908.82,1029.0 910.33,1029.2 911.83,1030.7 913.34,1030.5 914.84,1030.4 916.35,1031.0 917.86,1031.3 919.36,1030.2 920.87,1031.2 922.37,1030.7 923.88,1031.7 925.38,1031.5 926.89,1032.9 928.40,1032.6 929.90,1032.0 931.41,1032.6 932.91,1032.1 934.42,1033.0 935.92,1033.5 937.43,1033.5 938.94,1032.3 940.44,1033.4 941.95,1034.1 943.45,1034.1 944.96,1034.8 946.47,1033.5 947.97,1034.7 949.48,1034.1 950.98,1034.7 952.49,1035.0 953.99,1035.3 955.50,1035.0 956.50,1037.6 957.50,1010.0 958.50,835.2 961.00,835.2 962.00,835.0 962.50,835.0 963.00,837.8 965.01,837.8 965.51,840.6 969.52,840.6 970.02,843.4 974.54,843.4 975.04,840.6 979.05,840.6 979.55,843.4 981.06,843.4 981.56,840.6 985.07,840.6 985.57,837.8 986.07,840.6 993.59,840.6 994.10,837.8 995.60,837.8 996.10,840.6 998.61,840.6 999.11,837.8 1008.14,837.8 1008.64,835.0 1009.14,835.0 1009.64,837.8 1011.65,837.8 1012.15,835.0 1013.15,835.0 1013.65,837.8 1014.66,837.8 1015.16,835.0 1015.66,837.8 1016.66,837.8 1017.16,835.0 1020.67,835.0 1021.18,837.8 1022.68,837.8 1023.18,835.0 1024.18,835.0 1024.69,837.8 1025.19,835.0 1036.22,835.0 1036.72,832.2 1037.72,832.2 1038.23,835.0 1044.75,835.0 1045.25,832.2 1046.25,832.2 1046.75,835.0 1051.77,835.0 1052.27,832.2 1052.77,835.0 1053.77,835.0 1054.27,832.2 1054.77,835.0 1055.28,832.2 1063.30,832.2 1065.00,833.0 1069.60,1018.4 1074.10,1022.2 1074.10,1022.2 1075.61,1023.6 1077.11,1023.7 1078.62,1023.2 1080.13,1024.9 1081.64,1024.3 1083.14,1024.6 1084.65,1025.7 1086.16,1025.9 1087.67,1025.8 1089.17,1026.6 1090.68,1026.4 1092.19,1027.3 1093.69,1027.5 1095.20,1028.2 1096.71,1027.7 1098.22,1027.4 1099.72,1027.6 1101.23,1028.5 1102.74,1029.7 1104.24,1029.5 1105.75,1028.8 1107.26,1030.0 1108.77,1028.9 1110.27,1030.4 1111.78,1029.8 1113.29,1030.7 1114.80,1030.9 1116.30,1030.6 1117.81,1031.1 1119.32,1030.5 1120.82,1031.3 1122.33,1032.3 1123.84,1034.3 1125.35,1032.5 1126.85,1032.3 1128.36,1031.9 1129.87,1033.4 1131.38,1031.9 1132.88,1032.7 1134.39,1033.6 1135.90,1032.9 1137.40,1034.8 1138.91,1034.7 1140.42,1033.9 1141.93,1034.2 1143.43,1033.9 1144.94,1034.1 1146.45,1035.4 1147.96,1035.7 1149.46,1035.8 1150.97,1036.0 1152.48,1035.7 1153.98,1036.5 1155.49,1035.6 1157.00,1036.7 1158.51,1037.8 1160.01,1037.9 1161.52,1037.1 1163.03,1037.4 1164.53,1038.7 1166.04,1039.2 1167.55,1037.5 1169.06,1038.4 1170.56,1039.0 1172.07,1039.9 1173.58,1038.9 1175.09,1040.0 1176.59,1039.7 1178.10,1040.2 1180.00,1040.5 1180.30,1000.0 1182.40,900.0 1183.60,837.0 1185.30,837.0 1185.30,837.8 1186.30,837.8 1186.80,840.6 1187.30,840.6 1187.81,843.4 1188.81,843.4 1189.31,846.2 1191.81,846.2 1192.31,849.0 1193.82,849.0 1194.32,846.2 1195.32,846.2 1195.82,849.0 1196.32,849.0 1196.82,846.2 1197.32,846.2 1197.83,849.0 1198.33,849.0 1198.83,846.2 1207.34,846.2 1207.85,843.4 1214.36,843.4 1214.86,840.6 1225.38,840.6 1225.88,837.8 1226.38,840.6 1226.88,837.8 1259.45,837.8 1259.95,835.0 1263.96,835.0 1264.46,837.8 1266.46,837.8 1266.97,835.0 1272.48,835.0 1272.98,837.8 1273.48,835.0 1284.00,835.0 1286.00,835.8 1292.30,1018.4 1296.10,1023.5 1296.10,1023.5 1297.60,1023.9 1299.10,1024.7 1300.60,1025.7 1302.11,1026.1 1303.61,1026.1 1305.11,1026.7 1306.61,1028.2 1308.11,1027.1 1309.61,1028.1 1311.12,1029.2 1312.62,1028.8 1314.12,1027.7 1315.62,1029.5 1317.12,1029.3 1318.62,1029.8 1320.12,1030.8 1321.63,1030.7 1323.13,1030.6 1324.63,1031.5 1326.13,1031.5 1327.63,1031.6 1329.13,1032.0 1330.64,1032.2 1332.14,1032.1 1333.64,1032.3 1335.14,1032.8 1336.64,1032.5 1338.14,1032.5 1339.64,1034.3 1341.15,1033.6 1342.65,1033.9 1344.15,1034.1 1345.65,1034.4 1347.15,1034.6 1348.65,1034.9 1350.16,1034.5 1351.66,1035.8 1353.16,1035.0 1354.66,1036.3 1356.16,1034.7 1357.66,1035.5 1359.16,1036.9 1360.67,1036.5 1362.17,1036.4 1363.67,1037.2 1365.17,1036.5 1366.67,1037.4 1368.17,1036.2 1369.68,1037.5 1371.18,1037.6 1372.68,1038.5 1374.18,1038.9 1375.68,1038.1 1377.18,1039.8 1378.68,1038.7 1380.19,1038.1 1381.69,1038.2 1383.19,1040.8 1384.69,1040.1 1386.19,1040.2 1387.69,1040.5 1389.20,1040.7 1390.70,1042.6 1392.20,1042.3 1393.70,1042.8 1398.00,1043.5 1399.50,1000.0 1403.20,900.0 1404.40,842.8 1406.00,842.8 1407.90,843.4 1408.90,843.4 1409.40,846.2 1410.40,846.2 1410.90,849.0 1431.92,849.0 1432.42,846.2 1432.92,849.0 1433.43,846.2 1439.43,846.2 1439.93,843.4 1440.43,843.4 1440.93,846.2 1441.43,843.4 1449.94,843.4 1450.44,846.2 1450.94,843.4 1460.45,843.4 1460.95,840.6 1461.45,840.6 1461.95,843.4 1462.95,843.4 1463.45,840.6 1464.46,840.6 1464.96,843.4 1467.96,843.4 1468.46,840.6 1468.96,843.4 1469.46,843.4 1469.96,840.6 1470.46,843.4 1471.96,843.4 1472.46,840.6 1473.96,840.6 1474.47,843.4 1474.97,840.6 1485.98,840.6 1486.48,843.4 1486.98,840.6 1489.98,840.6 1490.48,837.8 1490.98,840.6 1500.99,840.6 1501.49,837.8 1503.99,837.8 1504.49,840.6 1505.00,840.6 1505.50,837.8 1506.00,840.6 1509.00,840.6 1509.50,837.8 1510.00,837.8 1511.00,839.3 1514.50,850.0 1516.00,1020.8 1518.50,1024.7 1518.50,1024.7 1520.01,1026.5 1521.52,1027.5 1523.03,1027.4 1524.53,1028.9 1526.04,1028.9 1527.55,1029.0 1529.06,1029.5 1530.57,1030.8 1532.08,1031.6 1533.59,1030.5 1535.09,1032.7 1536.60,1032.9 1538.11,1032.2 1539.62,1032.4 1541.13,1033.0 1542.64,1033.9 1544.15,1033.4 1545.66,1033.3 1547.16,1034.4 1548.67,1033.3 1550.18,1034.9 1551.69,1035.8 1553.20,1035.5 1554.71,1036.0 1556.22,1036.1 1557.72,1036.5 1559.23,1036.3 1560.74,1036.0 1562.25,1036.6 1563.76,1036.9 1565.27,1037.9 1566.78,1038.3 1568.28,1037.8 1569.79,1037.3 1571.30,1037.6 1572.81,1038.2 1574.32,1039.4 1575.83,1039.0 1577.34,1039.1 1578.84,1039.0 1580.35,1040.3 1581.86,1040.3 1583.37,1040.4 1584.88,1040.8 1586.39,1042.1 1587.90,1041.2 1589.41,1042.6 1590.91,1042.6 1592.42,1042.2 1593.93,1042.9 1595.44,1042.5 1596.95,1042.3 1598.46,1042.9 1599.97,1042.7 1601.47,1043.8 1602.98,1043.6 1604.49,1044.2 1606.00,1044.0" fill="none" stroke="#ff0000" stroke-width="5.9" stroke-linejoin="round" stroke-linecap="round"/>
<polyline points="196.00,981.8 197.52,983.0 199.04,983.2 200.55,982.4 202.07,984.0 203.59,984.8 205.11,985.1 206.62,985.9 208.14,985.4 209.66,985.7 211.18,987.3 212.70,986.6 214.21,986.4 215.73,988.8 217.25,988.2 218.77,989.0 220.29,988.8 221.80,989.3 223.32,989.9 224.84,990.8 226.36,991.7 227.88,990.6 229.39,992.9 230.91,992.2 232.43,992.8 233.95,994.3 235.46,994.3 236.98,993.9 238.50,996.4 240.02,995.2 241.54,996.3 243.05,996.7 244.57,997.9 246.09,997.2 247.61,998.5 249.12,997.9 250.64,999.5 252.16,998.8 253.68,999.5 255.20,1001.3 256.71,1000.9 258.23,1001.2 259.75,1003.0 261.27,1002.4 262.79,1002.1 264.30,1003.5 265.82,1002.7 267.34,1004.5 268.86,1004.8 270.38,1004.0 271.89,1004.1 273.41,1004.7 274.93,1004.6 276.45,1003.9 277.96,1004.7 279.48,1003.0 281.00,1004.0 283.00,1003.0 285.00,1009.0 287.00,1010.0 288.30,1010.0 289.30,819.0 293.50,584.0 294.10,586.6 296.61,586.6 297.11,592.2 297.61,592.2 298.12,597.8 298.62,603.4 299.12,603.4 299.62,609.0 312.17,609.0 312.67,603.4 313.17,603.4 313.67,609.0 314.18,603.4 318.19,603.4 318.69,609.0 319.19,603.4 321.70,603.4 322.21,597.8 322.71,597.8 323.21,603.4 325.72,603.4 326.22,597.8 327.22,597.8 327.73,603.4 330.24,603.4 330.74,597.8 331.24,603.4 331.74,597.8 336.76,597.8 337.26,592.2 337.76,597.8 340.77,597.8 341.28,592.2 341.78,597.8 346.30,597.8 346.80,592.2 347.80,592.2 348.30,597.8 348.80,592.2 354.33,592.2 354.83,586.6 356.33,586.6 356.83,592.2 357.34,592.2 357.84,586.6 358.34,586.6 358.84,592.2 362.86,592.2 363.36,586.6 365.37,586.6 365.87,592.2 366.37,586.6 370.89,586.6 371.39,592.2 371.89,586.6 373.90,586.6 374.40,592.2 376.41,592.2 376.91,586.6 379.42,586.6 379.92,592.2 380.42,592.2 380.92,586.6 381.43,592.2 381.93,586.6 385.94,586.6 386.45,592.2 386.95,586.6 392.97,586.6 393.47,592.2 393.97,586.6 394.48,592.2 394.98,586.6 401.00,586.6 401.50,586.5 402.40,964.6 406.20,966.0 406.50,980.0 406.50,980.0 408.01,981.7 409.52,983.6 411.04,984.0 412.55,986.4 414.06,986.0 415.57,987.6 417.08,988.0 418.60,989.5 420.11,990.8 421.62,992.0 423.13,991.3 424.64,992.3 426.16,992.6 427.67,992.8 429.18,993.0 430.69,994.2 432.20,993.6 433.71,995.1 435.23,995.5 436.74,995.5 438.25,995.8 439.76,996.1 441.27,998.6 442.79,997.1 444.30,999.4 445.81,999.3 447.32,999.3 448.83,999.3 450.35,1001.1 451.86,1002.0 453.37,1001.0 454.88,1001.8 456.39,1003.2 457.91,1003.2 459.42,1004.7 460.93,1003.7 462.44,1004.9 463.95,1004.4 465.47,1006.9 466.98,1005.7 468.49,1005.3 470.00,1007.1 471.51,1007.6 473.03,1009.3 474.54,1008.4 476.05,1009.1 477.56,1009.9 479.07,1011.0 480.59,1010.4 482.10,1011.5 483.61,1011.6 485.12,1011.5 486.63,1012.1 488.14,1012.5 489.66,1012.3 491.17,1014.0 492.68,1012.8 494.19,1014.7 495.70,1014.9 497.22,1014.7 498.73,1014.6 500.24,1015.3 501.75,1016.1 503.26,1016.6 504.78,1016.6 506.29,1017.4 507.80,1017.1 509.50,1018.0 510.20,1037.6 510.40,821.0 516.50,602.2 517.40,603.4 517.90,603.4 518.40,609.0 518.90,614.5 519.40,614.5 519.90,620.1 521.90,620.1 522.40,625.7 523.41,625.7 523.91,620.1 524.41,625.7 526.41,625.7 526.91,620.1 527.41,625.7 530.91,625.7 531.41,620.1 534.42,620.1 534.92,625.7 535.42,620.1 535.92,625.7 536.42,620.1 536.92,625.7 539.42,625.7 539.92,620.1 541.92,620.1 542.42,625.7 542.93,620.1 545.43,620.1 545.93,614.5 547.93,614.5 548.43,620.1 548.93,620.1 549.43,614.5 556.44,614.5 556.94,609.0 557.94,609.0 558.44,614.5 560.44,614.5 560.94,609.0 561.44,614.5 561.94,609.0 562.44,614.5 562.95,609.0 566.95,609.0 567.45,603.4 567.95,603.4 568.45,609.0 573.96,609.0 574.46,603.4 574.96,609.0 576.46,609.0 576.96,603.4 586.47,603.4 586.97,609.0 587.47,603.4 587.97,603.4 588.47,597.8 588.97,597.8 589.47,603.4 598.48,603.4 598.98,597.8 599.48,603.4 604.49,603.4 604.99,597.8 605.49,597.8 605.99,603.4 606.49,597.8 606.99,603.4 613.00,603.4 613.50,597.8 614.00,597.8 614.50,603.4 617.50,603.4 618.00,597.8 619.50,600.8 623.50,979.9 629.10,985.0 629.10,990.1 629.10,990.1 630.61,991.6 632.13,993.0 633.64,993.7 635.15,994.1 636.67,995.0 638.18,997.3 639.69,996.9 641.21,997.7 642.72,999.5 644.23,999.9 645.75,1000.2 647.26,1000.2 648.77,1002.4 650.29,1001.7 651.80,1002.2 653.31,1002.2 654.83,1001.9 656.34,1002.4 657.86,1003.8 659.37,1004.1 660.88,1004.1 662.40,1003.9 663.91,1004.1 665.42,1005.1 666.94,1004.8 668.45,1006.5 669.96,1007.0 671.48,1008.3 672.99,1007.5 674.50,1006.9 676.02,1007.0 677.53,1005.8 679.04,1007.8 680.56,1008.3 682.07,1009.3 683.58,1009.4 685.10,1009.7 686.61,1009.7 688.12,1010.3 689.64,1011.0 691.15,1009.8 692.66,1010.4 694.18,1010.2 695.69,1012.2 697.20,1012.3 698.72,1012.3 700.23,1011.4 701.74,1012.6 703.26,1012.7 704.77,1013.2 706.29,1013.4 707.80,1014.3 709.31,1014.2 710.83,1015.4 712.34,1015.6 713.85,1015.8 715.37,1016.4 716.88,1016.8 718.39,1018.1 719.91,1018.0 721.42,1018.9 722.93,1019.0 724.45,1018.9 725.96,1020.9 727.47,1020.4 728.99,1022.0 730.50,1022.2 732.50,1026.0 733.50,815.0 740.40,606.4 740.40,609.0 740.90,609.0 741.40,614.5 741.90,614.5 742.40,620.1 742.90,620.1 743.40,625.7 743.90,625.7 744.40,631.3 745.40,631.3 745.91,636.9 748.41,636.9 748.91,631.3 749.91,631.3 750.41,636.9 756.92,636.9 757.42,631.3 764.42,631.3 764.92,636.9 765.42,631.3 767.43,631.3 767.93,625.7 775.93,625.7 776.43,620.1 776.93,625.7 777.94,625.7 778.44,620.1 784.94,620.1 785.44,614.5 786.44,614.5 786.94,620.1 787.44,614.5 787.95,620.1 791.45,620.1 791.95,614.5 792.45,614.5 792.95,620.1 793.45,620.1 793.95,614.5 794.45,620.1 797.96,620.1 798.46,614.5 798.96,614.5 799.46,620.1 799.96,614.5 803.46,614.5 803.96,620.1 804.46,614.5 805.96,614.5 806.46,620.1 807.96,620.1 808.47,614.5 811.47,614.5 811.97,620.1 812.47,614.5 814.47,614.5 814.97,620.1 815.47,614.5 825.48,614.5 825.98,609.0 826.48,614.5 828.48,614.5 828.98,620.1 829.49,614.5 830.99,614.5 831.49,609.0 831.99,614.5 845.00,614.5 847.30,613.0 848.50,979.9 852.20,985.0 852.20,992.7 852.20,992.7 853.70,994.8 855.21,997.0 856.71,997.1 858.22,998.8 859.72,999.3 861.23,999.4 862.73,1000.7 864.24,1001.1 865.74,1001.5 867.24,1002.6 868.75,1002.1 870.25,1003.6 871.76,1004.5 873.26,1005.0 874.77,1006.1 876.27,1005.3 877.78,1005.7 879.28,1007.2 880.79,1007.8 882.29,1009.2 883.79,1008.8 885.30,1008.3 886.80,1009.7 888.31,1009.1 889.81,1009.1 891.32,1011.9 892.82,1010.9 894.33,1011.5 895.83,1011.8 897.33,1013.0 898.84,1012.4 900.34,1013.4 901.85,1012.5 903.35,1012.6 904.86,1014.7 906.36,1015.2 907.87,1015.0 909.37,1015.2 910.87,1015.6 912.38,1015.5 913.88,1017.2 915.39,1017.1 916.89,1017.4 918.40,1017.7 919.90,1018.5 921.41,1018.6 922.91,1019.1 924.41,1018.3 925.92,1019.7 927.42,1021.1 928.93,1019.9 930.43,1020.5 931.94,1021.5 933.44,1022.0 934.95,1022.2 936.45,1021.3 937.96,1023.0 939.46,1022.4 940.96,1023.1 942.47,1024.4 943.97,1024.3 945.48,1025.4 946.98,1027.3 948.49,1026.4 949.99,1026.8 951.50,1026.4 953.00,1027.4 955.60,1030.0 956.30,813.0 962.40,627.9 962.40,631.3 962.90,631.3 963.40,636.9 965.91,636.9 966.41,642.4 968.41,642.4 968.91,636.9 969.41,642.4 975.93,642.4 976.43,636.9 978.43,636.9 978.93,642.4 979.93,642.4 980.44,636.9 986.45,636.9 986.95,642.4 987.45,636.9 990.96,636.9 991.46,631.3 991.96,631.3 992.46,636.9 994.96,636.9 995.47,631.3 996.47,631.3 996.97,636.9 1001.48,636.9 1001.98,631.3 1015.00,631.3 1015.51,625.7 1016.01,631.3 1020.52,631.3 1021.02,625.7 1021.52,631.3 1024.02,631.3 1024.52,625.7 1025.02,625.7 1025.53,631.3 1030.54,631.3 1031.04,625.7 1032.04,625.7 1032.54,631.3 1034.54,631.3 1035.04,625.7 1036.05,625.7 1036.55,631.3 1038.05,631.3 1038.55,625.7 1041.06,625.7 1041.56,631.3 1042.06,631.3 1042.56,625.7 1050.58,625.7 1051.08,620.1 1051.58,620.1 1052.08,625.7 1057.09,625.7 1057.59,620.1 1062.60,620.1 1064.00,621.7 1069.60,992.7 1074.10,996.0 1074.10,1001.7 1074.10,1001.7 1075.61,1003.8 1077.12,1003.9 1078.63,1005.9 1080.14,1008.3 1081.65,1006.7 1083.16,1008.8 1084.67,1010.4 1086.18,1009.7 1087.69,1012.9 1089.20,1010.5 1090.71,1013.5 1092.22,1014.2 1093.73,1014.4 1095.24,1014.3 1096.75,1015.2 1098.26,1015.0 1099.77,1016.6 1101.29,1015.9 1102.80,1016.9 1104.31,1018.2 1105.82,1017.4 1107.33,1018.3 1108.84,1019.1 1110.35,1018.6 1111.86,1020.6 1113.37,1020.5 1114.88,1019.8 1116.39,1021.1 1117.90,1021.1 1119.41,1021.5 1120.92,1022.4 1122.43,1022.3 1123.94,1023.7 1125.45,1023.0 1126.96,1024.4 1128.47,1024.2 1129.98,1025.1 1131.49,1024.7 1133.00,1025.2 1134.51,1025.2 1136.02,1026.7 1137.53,1027.4 1139.04,1028.5 1140.55,1028.5 1142.06,1028.3 1143.57,1028.4 1145.08,1029.2 1146.59,1029.3 1148.10,1030.5 1149.61,1030.5 1151.12,1029.7 1152.64,1030.0 1154.15,1031.4 1155.66,1031.0 1157.17,1030.8 1158.68,1031.8 1160.19,1031.0 1161.70,1031.3 1163.21,1031.3 1164.72,1030.6 1166.23,1032.5 1167.74,1031.5 1169.25,1032.2 1170.76,1032.4 1172.27,1033.8 1173.78,1033.8 1175.29,1034.4 1176.80,1035.0 1177.50,1036.0 1178.50,820.0 1185.20,631.5 1185.20,631.3 1186.70,631.3 1187.21,636.9 1187.71,636.9 1188.21,642.4 1189.71,642.4 1190.21,648.0 1191.72,648.0 1192.22,653.6 1192.72,648.0 1194.73,648.0 1195.23,653.6 1196.73,653.6 1197.24,648.0 1205.76,648.0 1206.26,642.4 1207.27,642.4 1207.77,648.0 1209.27,648.0 1209.77,642.4 1218.30,642.4 1218.80,636.9 1219.30,636.9 1219.80,642.4 1220.30,636.9 1221.31,636.9 1221.81,642.4 1222.31,636.9 1224.32,636.9 1224.82,642.4 1226.82,642.4 1227.33,636.9 1236.35,636.9 1236.85,631.3 1237.36,636.9 1241.37,636.9 1241.87,631.3 1242.37,636.9 1246.38,636.9 1246.88,631.3 1249.89,631.3 1250.39,636.9 1251.40,636.9 1251.90,631.3 1253.90,631.3 1254.41,636.9 1255.41,636.9 1255.91,631.3 1260.42,631.3 1260.93,636.9 1261.43,636.9 1261.93,631.3 1266.94,631.3 1267.44,636.9 1267.95,631.3 1271.46,631.3 1271.96,625.7 1272.46,631.3 1283.49,631.3 1283.99,625.7 1286.00,625.7 1287.50,629.7 1292.30,995.3 1296.10,999.0 1296.10,1003.0 1296.10,1003.0 1297.61,1004.1 1299.13,1006.5 1300.64,1008.2 1302.15,1008.4 1303.67,1010.8 1305.18,1010.3 1306.69,1011.1 1308.21,1011.9 1309.72,1012.2 1311.23,1013.6 1312.75,1014.0 1314.26,1015.6 1315.77,1015.5 1317.29,1016.1 1318.80,1016.2 1320.31,1016.0 1321.83,1017.3 1323.34,1017.4 1324.86,1019.0 1326.37,1018.9 1327.88,1020.4 1329.40,1020.3 1330.91,1020.8 1332.42,1020.9 1333.94,1021.3 1335.45,1022.0 1336.96,1022.6 1338.48,1022.1 1339.99,1023.2 1341.50,1024.9 1343.02,1023.7 1344.53,1024.0 1346.04,1024.1 1347.56,1024.0 1349.07,1026.0 1350.58,1025.7 1352.10,1026.2 1353.61,1027.4 1355.12,1028.2 1356.64,1026.5 1358.15,1028.0 1359.66,1028.0 1361.18,1028.2 1362.69,1028.6 1364.20,1028.6 1365.72,1029.9 1367.23,1029.6 1368.74,1029.7 1370.26,1030.5 1371.77,1030.5 1373.29,1030.5 1374.80,1030.6 1376.31,1031.7 1377.83,1031.1 1379.34,1030.9 1380.85,1030.6 1382.37,1031.1 1383.88,1030.9 1385.39,1031.8 1386.91,1032.0 1388.42,1030.9 1389.93,1032.3 1391.45,1032.9 1392.96,1032.9 1394.47,1032.6 1395.99,1034.2 1397.50,1033.8 1399.00,1036.0 1400.00,820.0 1408.80,642.3 1408.80,642.4 1409.30,642.4 1409.80,648.0 1410.30,648.0 1410.81,653.6 1411.31,653.6 1411.81,659.2 1412.31,659.2 1412.81,653.6 1414.32,653.6 1414.82,659.2 1415.32,659.2 1415.82,653.6 1425.35,653.6 1425.85,648.0 1426.85,648.0 1427.35,653.6 1427.86,653.6 1428.36,648.0 1432.87,648.0 1433.37,653.6 1434.37,653.6 1434.88,648.0 1446.41,648.0 1446.91,642.4 1447.91,642.4 1448.42,648.0 1448.92,642.4 1455.94,642.4 1456.44,648.0 1456.94,642.4 1462.46,642.4 1462.96,636.9 1463.46,642.4 1463.96,636.9 1464.46,642.4 1465.97,642.4 1466.47,636.9 1490.54,636.9 1491.04,642.4 1491.54,636.9 1498.06,636.9 1498.56,631.3 1499.06,631.3 1499.56,636.9 1508.59,636.9 1509.09,631.3 1509.59,636.9 1510.60,636.9 1511.10,631.3 1511.60,636.9 1513.00,636.0 1515.50,650.0 1516.00,996.8 1519.40,1001.6 1519.40,1001.6 1520.92,1008.9 1522.44,1009.7 1523.96,1012.4 1525.48,1015.5 1527.00,1015.4 1528.52,1015.9 1530.04,1017.7 1531.55,1018.5 1533.07,1019.3 1534.59,1019.8 1536.11,1020.6 1537.63,1021.1 1539.15,1022.2 1540.67,1022.1 1542.19,1023.0 1543.71,1023.6 1545.23,1025.0 1546.75,1024.9 1548.27,1025.1 1549.79,1025.9 1551.31,1026.3 1552.82,1027.2 1554.34,1027.3 1555.86,1028.5 1557.38,1028.7 1558.90,1028.2 1560.42,1028.4 1561.94,1029.6 1563.46,1029.8 1564.98,1029.8 1566.50,1029.4 1568.02,1029.5 1569.54,1031.2 1571.06,1031.7 1572.58,1032.1 1574.09,1031.2 1575.61,1032.9 1577.13,1032.2 1578.65,1033.1 1580.17,1033.3 1581.69,1032.9 1583.21,1033.2 1584.73,1032.6 1586.25,1033.5 1587.77,1033.1 1589.29,1034.7 1590.81,1034.6 1592.33,1035.3 1593.85,1035.2 1595.36,1034.8 1596.88,1035.6 1598.40,1035.3 1599.92,1036.1 1601.44,1036.1 1602.96,1035.5 1604.48,1036.3 1606.00,1036.5" fill="none" stroke="#0000ff" stroke-width="5.9" stroke-linejoin="round" stroke-linecap="round"/>
<polyline points="196.00,931.3 197.50,932.4 199.00,933.3 200.50,934.9 202.00,935.8 203.50,937.6 205.00,939.6 206.50,939.7 208.00,940.8 209.50,942.6 211.00,943.7 212.50,944.7 214.00,945.1 215.50,946.8 217.00,948.2 218.50,948.0 220.00,949.6 221.50,949.7 223.00,951.1 224.50,951.7 226.00,953.6 227.50,954.0 229.00,955.9 230.50,956.7 232.00,957.5 233.50,957.0 235.00,959.1 236.50,960.3 238.00,961.4 239.50,961.3 241.00,962.8 242.50,963.4 244.00,964.4 245.50,966.4 247.00,966.2 248.50,967.5 250.00,968.9 251.50,968.9 253.00,970.1 254.50,971.1 256.00,972.0 257.50,972.1 259.00,973.8 260.50,975.5 262.00,974.8 263.50,977.2 265.00,977.8 266.50,978.4 268.00,981.1 269.50,981.4 271.00,981.3 272.50,983.2 274.00,984.6 275.50,985.3 277.00,986.6 281.00,984.0 283.50,976.0 285.50,990.0 289.00,993.0 290.50,993.0 291.50,296.4 292.00,302.0 292.50,296.4 293.00,302.0 294.00,302.0 294.50,296.4 296.00,296.4 296.50,302.0 297.00,302.0 297.50,296.4 299.00,296.4 299.50,290.9 300.00,296.4 300.50,296.4 301.00,290.9 305.00,290.9 305.50,285.3 308.50,285.3 309.00,279.7 309.50,285.3 310.00,279.7 310.50,285.3 312.00,285.3 312.50,279.7 313.00,279.7 313.50,274.1 314.00,274.1 314.50,279.7 315.00,274.1 320.50,274.1 321.00,268.5 322.50,268.5 323.00,274.1 324.50,274.1 325.00,268.5 328.50,268.5 329.00,263.0 330.00,263.0 330.50,268.5 331.00,268.5 331.50,263.0 333.50,263.0 334.00,268.5 334.50,263.0 342.00,263.0 342.50,257.4 343.50,257.4 344.00,263.0 344.50,263.0 345.00,257.4 354.00,257.4 354.50,251.8 356.00,251.8 356.50,257.4 357.00,251.8 363.00,251.8 363.50,246.2 364.50,246.2 365.00,251.8 373.50,251.8 374.00,246.2 375.00,246.2 375.50,251.8 376.00,251.8 376.50,246.2 385.50,246.2 386.00,251.8 387.00,251.8 387.50,246.2 390.00,246.2 390.50,240.6 391.00,246.2 391.50,246.2 392.00,240.6 394.00,240.6 394.50,246.2 395.00,240.6 395.50,246.2 396.00,240.6 396.50,246.2 397.00,246.2 397.50,240.6 399.50,240.6 400.00,246.2 401.00,246.2 402.40,242.5 402.60,901.0 406.20,903.0 406.50,926.0 406.50,926.0 408.00,929.0 409.51,932.7 411.01,934.9 412.51,937.1 414.01,940.1 415.52,940.7 417.02,942.6 418.52,943.5 420.03,947.1 421.53,948.2 423.03,949.7 424.53,950.9 426.04,952.0 427.54,953.4 429.04,954.4 430.55,955.7 432.05,957.1 433.55,959.2 435.05,959.8 436.56,960.5 438.06,961.2 439.56,962.2 441.07,964.5 442.57,964.8 444.07,965.4 445.57,966.0 447.08,966.4 448.58,967.9 450.08,969.4 451.59,969.6 453.09,970.7 454.59,971.7 456.09,973.0 457.60,973.0 459.10,974.9 460.60,975.6 462.11,977.7 463.61,977.8 465.11,979.5 466.61,981.1 468.12,980.9 469.62,981.7 471.12,983.0 472.63,983.8 474.13,984.1 475.63,985.8 477.13,987.6 478.64,987.0 480.14,987.8 481.64,988.1 483.15,989.6 484.65,989.4 486.15,990.2 487.65,992.4 489.16,991.8 490.66,993.7 492.16,994.7 493.67,994.7 495.17,995.5 496.67,997.1 498.17,996.5 499.68,997.1 501.18,997.4 502.68,999.1 504.19,1000.9 505.69,1001.6 507.19,1001.5 508.69,1002.7 510.20,1004.0 511.70,1005.5 512.80,1006.0 513.90,324.0 515.00,324.3 516.50,324.3 517.00,318.8 518.00,318.8 518.50,324.3 520.50,324.3 521.00,318.8 521.50,318.8 522.00,324.3 523.00,324.3 523.50,318.8 528.00,318.8 528.50,313.2 533.50,313.2 534.00,307.6 541.00,307.6 541.50,302.0 545.00,302.0 545.50,296.4 546.00,302.0 548.50,302.0 549.00,296.4 550.50,296.4 551.00,302.0 551.50,296.4 557.50,296.4 558.00,290.9 568.50,290.9 569.00,285.3 569.50,290.9 570.50,290.9 571.00,285.3 574.50,285.3 575.00,290.9 575.50,285.3 578.00,285.3 578.50,279.7 579.00,279.7 579.50,285.3 581.00,285.3 581.50,279.7 582.00,279.7 582.50,285.3 583.00,285.3 583.50,279.7 584.00,285.3 584.50,279.7 585.00,285.3 585.50,279.7 586.50,279.7 587.00,285.3 587.50,285.3 588.00,279.7 589.50,279.7 590.00,285.3 590.50,285.3 591.00,279.7 594.00,279.7 594.50,274.1 595.00,274.1 595.50,279.7 607.00,279.7 607.50,274.1 608.00,279.7 610.00,279.7 610.50,274.1 611.00,279.7 611.50,274.1 619.50,274.1 620.80,273.5 625.30,927.2 629.00,929.0 630.00,945.0 630.00,945.0 631.50,947.6 633.00,952.3 634.50,954.5 636.00,955.5 637.50,959.5 639.00,960.3 640.50,962.2 642.00,964.1 643.50,966.7 645.00,967.1 646.50,968.7 648.00,970.7 649.50,971.7 651.00,971.7 652.50,972.6 654.00,972.9 655.50,974.2 657.00,975.6 658.50,976.4 660.00,977.0 661.50,978.2 663.00,977.8 664.50,979.0 666.00,980.2 667.50,980.8 669.00,981.9 670.50,982.2 672.00,982.5 673.50,983.6 675.00,983.5 676.50,983.9 678.00,986.0 679.50,986.4 681.00,987.5 682.50,987.2 684.00,988.9 685.50,989.7 687.00,990.5 688.50,990.6 690.00,992.7 691.50,994.3 693.00,994.8 694.50,995.0 696.00,996.1 697.50,997.3 699.00,996.0 700.50,998.3 702.00,999.4 703.50,1000.2 705.00,1001.5 706.50,1001.8 708.00,1001.9 709.50,1002.4 711.00,1003.3 712.50,1003.0 714.00,1003.9 715.50,1005.1 717.00,1006.3 718.50,1005.8 720.00,1006.7 721.50,1007.8 723.00,1009.4 724.50,1009.6 726.00,1011.5 727.50,1011.0 729.00,1012.3 730.50,1013.1 732.00,1014.4 733.50,1014.5 735.50,1014.0 736.50,341.4 737.50,341.1 747.50,341.1 748.00,335.5 748.50,329.9 751.00,329.9 751.50,335.5 752.00,329.9 752.50,329.9 753.00,335.5 754.00,335.5 754.50,329.9 761.00,329.9 761.50,324.3 762.00,324.3 762.50,329.9 763.00,329.9 763.50,324.3 764.00,324.3 764.50,318.8 765.00,324.3 765.50,318.8 766.50,318.8 767.00,324.3 767.50,318.8 777.50,318.8 778.00,313.2 780.50,313.2 781.00,318.8 781.50,313.2 787.50,313.2 788.00,307.6 788.50,307.6 789.00,302.0 789.50,307.6 799.50,307.6 800.00,302.0 800.50,307.6 801.50,307.6 802.00,302.0 802.50,307.6 804.00,307.6 804.50,302.0 806.00,302.0 806.50,307.6 807.00,302.0 807.50,302.0 808.00,307.6 810.50,307.6 811.00,302.0 812.50,302.0 813.00,307.6 814.00,307.6 814.50,302.0 829.50,302.0 830.00,296.4 831.00,296.4 831.50,302.0 837.00,302.0 837.50,296.4 838.00,302.0 838.50,302.0 839.00,296.4 843.00,296.4 843.50,290.9 845.50,290.9 847.00,292.0 848.30,929.8 852.80,933.0 853.00,951.6 853.00,951.6 854.51,954.1 856.03,956.9 857.54,959.5 859.06,962.1 860.57,963.2 862.09,964.4 863.60,967.1 865.12,969.0 866.63,970.7 868.14,972.9 869.66,973.8 871.17,975.6 872.69,975.8 874.20,978.3 875.72,980.2 877.23,980.6 878.75,981.4 880.26,982.4 881.78,984.4 883.29,983.7 884.80,985.0 886.32,986.2 887.83,987.2 889.35,987.4 890.86,988.7 892.38,989.3 893.89,990.4 895.41,991.2 896.92,991.5 898.43,993.1 899.95,994.6 901.46,994.4 902.98,995.7 904.49,997.1 906.01,996.8 907.52,998.4 909.04,998.4 910.55,1000.5 912.07,1001.9 913.58,1002.5 915.09,1001.9 916.61,1003.2 918.12,1003.6 919.64,1004.4 921.15,1006.0 922.67,1005.0 924.18,1007.2 925.70,1007.3 927.21,1008.9 928.72,1008.9 930.24,1009.2 931.75,1010.5 933.27,1011.5 934.78,1011.9 936.30,1012.9 937.81,1013.0 939.33,1012.8 940.84,1015.4 942.36,1016.0 943.87,1016.5 945.38,1017.2 946.90,1018.6 948.41,1018.5 949.93,1019.1 951.44,1020.2 952.96,1021.8 954.47,1020.9 955.99,1023.1 957.50,1023.0 958.50,1023.0 959.50,368.5 960.50,369.0 961.00,369.0 961.50,363.4 966.50,363.4 967.00,357.8 969.50,357.8 970.00,352.3 971.50,352.3 972.00,357.8 972.50,352.3 974.00,352.3 974.50,357.8 975.00,352.3 979.50,352.3 980.00,346.7 982.50,346.7 983.00,352.3 983.50,346.7 985.00,346.7 985.50,341.1 986.00,346.7 987.00,346.7 987.50,341.1 988.50,341.1 989.00,346.7 989.50,341.1 994.50,341.1 995.00,335.5 996.00,335.5 996.50,341.1 997.00,341.1 997.50,335.5 998.50,335.5 999.00,341.1 1000.00,341.1 1000.50,335.5 1004.00,335.5 1004.50,341.1 1005.00,335.5 1006.00,335.5 1006.50,329.9 1007.00,335.5 1008.00,335.5 1008.50,329.9 1018.00,329.9 1018.50,324.3 1019.00,324.3 1019.50,329.9 1022.00,329.9 1022.50,324.3 1023.00,324.3 1023.50,329.9 1026.00,329.9 1026.50,324.3 1039.50,324.3 1040.00,318.8 1047.50,318.8 1048.00,324.3 1048.50,318.8 1049.00,324.3 1049.50,318.8 1061.00,318.8 1061.50,313.2 1063.00,313.2 1065.00,313.0 1071.00,951.6 1074.80,955.0 1074.80,967.0 1074.80,967.0 1076.32,971.2 1077.84,973.1 1079.35,974.9 1080.87,977.4 1082.39,979.8 1083.91,981.2 1085.42,982.8 1086.94,985.0 1088.46,985.8 1089.98,987.6 1091.49,988.9 1093.01,991.4 1094.53,990.6 1096.05,992.1 1097.56,993.2 1099.08,994.7 1100.60,996.2 1102.12,996.4 1103.64,997.3 1105.15,997.9 1106.67,999.3 1108.19,1001.3 1109.71,1002.0 1111.22,1002.3 1112.74,1003.7 1114.26,1004.9 1115.78,1006.1 1117.29,1006.4 1118.81,1007.5 1120.33,1007.4 1121.85,1008.7 1123.36,1011.2 1124.88,1009.8 1126.40,1011.7 1127.92,1012.8 1129.44,1013.2 1130.95,1013.7 1132.47,1014.8 1133.99,1015.6 1135.51,1016.3 1137.02,1016.0 1138.54,1017.8 1140.06,1018.1 1141.58,1019.1 1143.09,1020.3 1144.61,1021.4 1146.13,1022.3 1147.65,1022.2 1149.16,1023.7 1150.68,1024.5 1152.20,1025.2 1153.72,1025.9 1155.24,1025.6 1156.75,1026.2 1158.27,1027.4 1159.79,1026.6 1161.31,1028.2 1162.82,1028.3 1164.34,1029.1 1165.86,1028.9 1167.38,1030.1 1168.89,1031.2 1170.41,1032.4 1171.93,1033.1 1173.45,1033.0 1174.96,1033.5 1176.48,1033.6 1178.00,1034.5 1179.40,1034.5 1182.50,380.0 1183.50,380.2 1184.00,380.2 1184.50,385.7 1185.00,380.2 1187.50,380.2 1188.00,374.6 1188.50,380.2 1189.50,380.2 1190.00,374.6 1191.00,374.6 1191.50,369.0 1196.50,369.0 1197.00,363.4 1199.00,363.4 1199.50,369.0 1201.00,369.0 1201.50,363.4 1206.00,363.4 1206.50,357.8 1207.50,357.8 1208.00,363.4 1208.50,357.8 1211.00,357.8 1211.50,352.3 1212.00,357.8 1213.00,357.8 1213.50,352.3 1221.50,352.3 1222.00,346.7 1228.00,346.7 1228.50,352.3 1229.00,346.7 1234.50,346.7 1235.00,341.1 1236.00,341.1 1236.50,346.7 1237.00,341.1 1238.50,341.1 1239.00,346.7 1239.50,341.1 1240.50,341.1 1241.00,335.5 1241.50,341.1 1250.00,341.1 1250.50,346.7 1251.00,341.1 1251.50,341.1 1252.00,335.5 1252.50,341.1 1254.50,341.1 1255.00,335.5 1255.50,335.5 1256.00,341.1 1259.00,341.1 1259.50,335.5 1261.50,335.5 1262.00,341.1 1262.50,341.1 1263.00,335.5 1263.50,341.1 1264.00,341.1 1264.50,335.5 1267.50,335.5 1268.00,329.9 1268.50,329.9 1269.00,335.5 1271.00,335.5 1271.50,329.9 1275.00,329.9 1275.50,335.5 1277.50,335.5 1278.00,329.9 1287.00,329.9 1288.50,329.5 1293.20,955.5 1297.40,960.0 1297.40,976.0 1297.40,976.0 1298.91,977.0 1300.42,979.4 1301.93,980.4 1303.44,982.9 1304.94,984.5 1306.45,986.4 1307.96,988.2 1309.47,989.1 1310.98,990.6 1312.49,991.3 1314.00,993.4 1315.51,994.1 1317.01,996.2 1318.52,996.9 1320.03,998.8 1321.54,1000.2 1323.05,1000.2 1324.56,1001.6 1326.07,1002.6 1327.58,1004.6 1329.09,1006.2 1330.59,1006.8 1332.10,1007.1 1333.61,1009.2 1335.12,1008.5 1336.63,1011.4 1338.14,1011.3 1339.65,1011.2 1341.16,1015.5 1342.66,1015.9 1344.17,1015.3 1345.68,1016.9 1347.19,1017.5 1348.70,1018.3 1350.21,1018.0 1351.72,1019.1 1353.23,1020.3 1354.74,1020.7 1356.24,1021.9 1357.75,1021.8 1359.26,1023.7 1360.77,1022.5 1362.28,1023.6 1363.79,1022.9 1365.30,1023.9 1366.81,1026.1 1368.31,1025.3 1369.82,1026.8 1371.33,1027.1 1372.84,1027.2 1374.35,1028.3 1375.86,1028.9 1377.37,1029.7 1378.88,1031.2 1380.39,1031.9 1381.89,1031.9 1383.40,1032.6 1384.91,1034.1 1386.42,1034.7 1387.93,1036.1 1389.44,1037.9 1390.95,1037.7 1392.46,1038.0 1393.96,1038.9 1395.47,1039.5 1396.98,1040.6 1398.49,1041.8 1400.00,1044.0 1401.40,1045.0 1404.60,396.7 1405.50,396.9 1406.50,396.9 1407.00,391.3 1409.00,391.3 1409.50,385.7 1416.00,385.7 1416.50,380.2 1417.00,385.7 1417.50,380.2 1418.00,380.2 1418.50,374.6 1419.00,380.2 1420.00,380.2 1420.50,374.6 1421.00,380.2 1421.50,374.6 1424.00,374.6 1424.50,369.0 1425.00,374.6 1425.50,369.0 1429.00,369.0 1429.50,363.4 1430.00,369.0 1430.50,363.4 1431.00,369.0 1433.00,369.0 1433.50,363.4 1435.50,363.4 1436.00,357.8 1436.50,363.4 1438.50,363.4 1439.00,357.8 1439.50,363.4 1441.00,363.4 1441.50,357.8 1442.00,363.4 1443.00,363.4 1443.50,357.8 1444.00,357.8 1444.50,363.4 1447.00,363.4 1447.50,357.8 1462.50,357.8 1463.00,352.3 1463.50,357.8 1467.00,357.8 1467.50,352.3 1480.00,352.3 1480.50,346.7 1482.50,346.7 1483.00,352.3 1490.00,352.3 1490.50,346.7 1491.00,352.3 1492.00,352.3 1492.50,346.7 1495.50,346.7 1496.00,352.3 1497.50,352.3 1498.00,346.7 1498.50,346.7 1499.00,352.3 1499.50,346.7 1500.00,352.3 1500.50,346.7 1501.00,352.3 1503.00,352.3 1503.50,346.7 1505.00,346.7 1505.50,352.3 1506.00,346.7 1509.00,346.7 1509.50,341.1 1511.50,341.1 1515.30,342.0 1516.20,961.2 1519.90,965.0 1519.90,981.4 1519.90,981.4 1521.41,983.5 1522.92,985.1 1524.43,988.0 1525.94,991.5 1527.45,992.6 1528.96,995.7 1530.47,997.3 1531.98,998.8 1533.49,998.9 1535.01,1001.6 1536.52,1003.6 1538.03,1004.1 1539.54,1006.0 1541.05,1005.9 1542.56,1008.9 1544.07,1009.3 1545.58,1011.4 1547.09,1010.9 1548.60,1013.5 1550.11,1014.0 1551.62,1015.6 1553.13,1015.5 1554.64,1016.5 1556.15,1019.0 1557.66,1017.9 1559.17,1018.8 1560.68,1019.7 1562.19,1020.0 1563.71,1021.9 1565.22,1022.9 1566.73,1022.0 1568.24,1021.9 1569.75,1024.2 1571.26,1024.8 1572.77,1025.4 1574.28,1026.4 1575.79,1026.1 1577.30,1027.4 1578.81,1027.7 1580.32,1028.6 1581.83,1031.0 1583.34,1030.9 1584.85,1033.6 1586.36,1033.1 1587.87,1033.6 1589.38,1035.4 1590.89,1036.9 1592.41,1037.0 1593.92,1036.9 1595.43,1038.7 1596.94,1040.2 1598.45,1040.0 1599.96,1040.8 1601.47,1042.8 1602.98,1043.2 1604.49,1043.4 1606.00,1045.0" fill="none" stroke="#008080" stroke-width="5.9" stroke-linejoin="round" stroke-linecap="round"/>
</g></g>
<g stroke="#000" stroke-width="5.1" stroke-linecap="round"><line x1="174.5" y1="1061.0" x2="195" y2="1061.0"/><line x1="174.5" y1="893.6" x2="195" y2="893.6"/><line x1="174.5" y1="726.2" x2="195" y2="726.2"/><line x1="174.5" y1="558.7" x2="195" y2="558.7"/><line x1="174.5" y1="391.3" x2="195" y2="391.3"/><line x1="174.5" y1="223.9" x2="195" y2="223.9"/><line x1="174.5" y1="56.5" x2="195" y2="56.5"/></g>
<g stroke="#000" stroke-width="5.9" stroke-linecap="round"><line x1="287.1" y1="1089.5" x2="287.1" y2="1108.5"/><line x1="398.5" y1="1089.5" x2="398.5" y2="1108.5"/><line x1="509.8" y1="1089.5" x2="509.8" y2="1108.5"/><line x1="621.2" y1="1089.5" x2="621.2" y2="1108.5"/><line x1="732.6" y1="1089.5" x2="732.6" y2="1108.5"/><line x1="844.0" y1="1089.5" x2="844.0" y2="1108.5"/><line x1="955.4" y1="1089.5" x2="955.4" y2="1108.5"/><line x1="1066.7" y1="1089.5" x2="1066.7" y2="1108.5"/><line x1="1178.1" y1="1089.5" x2="1178.1" y2="1108.5"/><line x1="1289.5" y1="1089.5" x2="1289.5" y2="1108.5"/><line x1="1400.9" y1="1089.5" x2="1400.9" y2="1108.5"/><line x1="1512.3" y1="1089.5" x2="1512.3" y2="1108.5"/></g>
<rect x="195" y="56.5" width="1410" height="1032.0" fill="none" stroke="#000" stroke-width="5.1" stroke-linejoin="round"/>
<g stroke="#000" stroke-width="5.9"><line x1="195" y1="54.2" x2="195" y2="1090.8"/><line x1="1605" y1="54.2" x2="1605" y2="1090.8"/></g>
<g class="yl"><text x="159.5" y="1073.0">0.0</text><text x="159.5" y="905.6">0.3</text><text x="159.5" y="738.2">0.6</text><text x="159.5" y="570.7">0.9</text><text x="159.5" y="403.3">1.2</text><text x="159.5" y="235.9">1.5</text><text x="159.5" y="68.5">1.8</text></g>
<g class="xl"><text x="287.1" y="1160">30</text><text x="398.5" y="1160">60</text><text x="509.8" y="1160">90</text><text x="621.2" y="1160">120</text><text x="732.6" y="1160">150</text><text x="844.0" y="1160">180</text><text x="955.4" y="1160">210</text><text x="1066.7" y="1160">240</text><text x="1178.1" y="1160">270</text><text x="1289.5" y="1160">300</text><text x="1400.9" y="1160">330</text><text x="1512.3" y="1160">360</text></g>
<text x="692" y="1209" style="font-size:55.7px">Irradiation time(s)</text>
<text transform="translate(82.6,901) rotate(-90)" style="font-size:56.5px">Photocurrent density(μA/cm<tspan style="font-size:34px" dy="-30">2</tspan><tspan dy="30">)</tspan></text>
<line x1="1114.5" y1="99.6" x2="1208" y2="99.6" stroke="#000000" stroke-width="5.3" stroke-linecap="round"/><text class="leg" x="1218" y="112.8">ZnWO<tspan class="sub" dy="16">4</tspan></text><line x1="1114.5" y1="165.4" x2="1208" y2="165.4" stroke="#ff0000" stroke-width="5.3" stroke-linecap="round"/><text class="leg" x="1218" y="178.6">3 wt% Cu<tspan class="sub" dy="16">2</tspan><tspan dy="-16">O/ZnWO</tspan><tspan class="sub" dy="16">4</tspan></text><line x1="1114.5" y1="231.4" x2="1208" y2="231.4" stroke="#0000ff" stroke-width="5.3" stroke-linecap="round"/><text class="leg" x="1218" y="244.6">7 wt% Cu<tspan class="sub" dy="16">2</tspan><tspan dy="-16">O/ZnWO</tspan><tspan class="sub" dy="16">4</tspan></text><line x1="1114.5" y1="297.2" x2="1208" y2="297.2" stroke="#008080" stroke-width="5.3" stroke-linecap="round"/><text class="leg" x="1218" y="310.4">5 wt% Cu<tspan class="sub" dy="16">2</tspan><tspan dy="-16">O/ZnWO</tspan><tspan class="sub" dy="16">4</tspan></text>
<g stroke="#000" stroke-width="5.6" stroke-linecap="round"><line x1="291" y1="171" x2="291" y2="325"/><line x1="402" y1="176.5" x2="402" y2="372"/></g>
<g fill="#000" stroke="#000" stroke-width="3" stroke-linejoin="round"><polygon points="284,319.5 299,319.5 291.2,347"/><polygon points="394.2,366.8 409.3,366.8 401.9,394.5"/></g>
<text x="265.7" y="157.8" style="font-size:59px">on</text>
<text x="376.3" y="162" style="font-size:59px;letter-spacing:0.7px;font-variant-ligatures:none">off</text>
</svg>
</body></html>
